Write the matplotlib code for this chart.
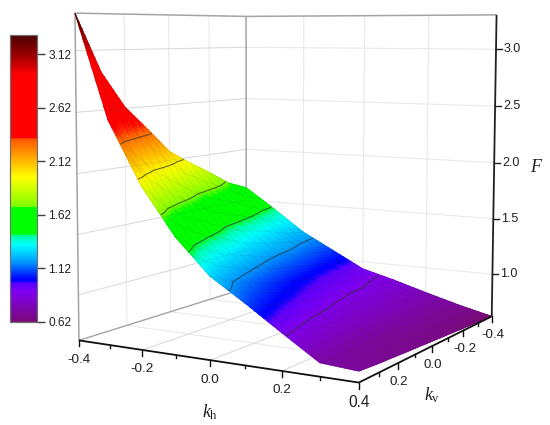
import numpy as np
import matplotlib
matplotlib.use("Agg")
import matplotlib.pyplot as plt
from matplotlib.colors import LinearSegmentedColormap, Normalize
from matplotlib.cm import ScalarMappable

plt.rcParams['font.family'] = ['Liberation Sans', 'DejaVu Sans']
plt.rcParams['mathtext.fontset'] = 'custom'
plt.rcParams['mathtext.it'] = 'Liberation Serif:italic'
plt.rcParams['mathtext.rm'] = 'Liberation Serif'

W, H = 550, 425

# ---- data ----
kh_values = [-0.4, -0.3, -0.2, -0.1, 0.0, 0.1, 0.2, 0.3, 0.4]
kv_values = [-0.4, -0.3, -0.2, -0.1, 0.0, 0.1, 0.2, 0.3, 0.4]
# rows: kh, columns: kv
F_row_m40 = [1.62, 1.70, 1.83, 1.95, 2.08, 2.30, 2.51, 2.82, 3.30]
F_row_m30 = [1.43, 1.48, 1.56, 1.63, 1.71, 1.84, 1.97, 2.16, 2.45]
F_row_m20 = [1.23, 1.26, 1.32, 1.37, 1.42, 1.52, 1.61, 1.74, 1.94]
F_row_m10 = [1.08, 1.10, 1.14, 1.17, 1.21, 1.27, 1.33, 1.42, 1.56]
F_row_p00 = [0.93, 0.95, 0.97, 1.00, 1.03, 1.07, 1.12, 1.18, 1.28]
F_row_p10 = [0.855, 0.87, 0.89, 0.90, 0.92, 0.95, 0.985, 1.03, 1.10]
F_row_p20 = [0.77, 0.78, 0.79, 0.80, 0.81, 0.83, 0.84, 0.87, 0.91]
F_row_p30 = [0.69, 0.69, 0.70, 0.70, 0.70, 0.70, 0.71, 0.72, 0.725]
F_row_p40 = [0.62, 0.63, 0.64, 0.65, 0.66, 0.67, 0.68, 0.69, 0.705]

kh_ticks = [-0.4, -0.2, 0.0, 0.2, 0.4]
kh_minor = [-0.3, -0.1, 0.1, 0.3]
kv_ticks = [0.2, 0.0, -0.2, -0.4]
kv_minor = [0.3, 0.1, -0.1, -0.3]
F_ticks = [1.0, 1.5, 2.0, 2.5, 3.0]
contour_levels = [0.89, 1.18, 1.45, 1.72, 1.99, 2.26]
cbar_ticks = [0.62, 1.12, 1.62, 2.12, 2.62, 3.12]
F_min, F_max = 0.62, 3.30

# colour stops of the legend bar
stops = [(0.62, '#7a0a78'), (0.90, '#8000f0'), (0.985, '#5a00ff'), (0.99, '#1000ff'),
         (1.02, '#0000ff'), (1.18, '#0099ff'), (1.34, '#00ffff'), (1.43, '#00ff99'),
         (1.44, '#00ff00'), (1.69, '#00ff00'), (1.70, '#80ff00'), (1.97, '#ffff00'),
         (2.33, '#ff5500'), (2.34, '#ff0000'), (2.93, '#ff0000'), (3.12, '#980000'),
         (3.30, '#4a0000')]
cmap = LinearSegmentedColormap.from_list(
    'origin', [((f - F_min) / (F_max - F_min), c) for f, c in stops], N=1024)
norm = Normalize(F_min, F_max)

kh = np.array(kh_values)
kv = np.array(kv_values)
F = np.array([F_row_m40, F_row_m30, F_row_m20, F_row_m10, F_row_p00,
              F_row_p10, F_row_p20, F_row_p30, F_row_p40])

# ---- perspective camera calibrated on the printed box ----
L, R = -0.4, 0.4
cal = [((L, R, F_min), (79, 340)), ((R, R, F_min), (358.3, 382)),
       ((R, L, F_min), (491.7, 317)), ((L, L, F_min), (246, 288)),
       ((L, R, F_max), (75, 12.7)), ((L, L, F_max), (246.7, 16.5)),
       ((R, L, F_max), (496.7, 15.3)), ((0, R, F_min), (211, 361)),
       ((R, 0, F_min), (431.7, 347)), ((R, L, 2.0), (495, 162)),
       ((R, L, 1.0), (492.3, 273)), ((L, 0, F_max), (168, 15)),
       ((0, L, F_max), (364, 16))]
A, b = [], []
for (X, Y, Z), (u, v) in cal:
    A.append([X, Y, Z, 1, 0, 0, 0, 0, -u * X, -u * Y, -u * Z]); b.append(u)
    A.append([0, 0, 0, 0, X, Y, Z, 1, -v * X, -v * Y, -v * Z]); b.append(v)
sol = np.linalg.lstsq(np.array(A, float), np.array(b, float), rcond=None)[0]
P = np.append(sol, 1.0).reshape(3, 4)


def project(x, y, z):
    x, y, z = np.broadcast_arrays(np.asarray(x, float), np.asarray(y, float), np.asarray(z, float))
    q = P @ np.stack([x.ravel(), y.ravel(), z.ravel(), np.ones(x.size)])
    return (q[0] / q[2]).reshape(x.shape), (q[1] / q[2]).reshape(x.shape)


fig = plt.figure(figsize=(W / 100, H / 100), dpi=100)
ax = fig.add_axes([0, 0, 1, 1])
ax.set_xlim(0, W)
ax.set_ylim(H, 0)
ax.set_axis_off()


def line3(xs, ys, zs, **kw):
    u, v = project(xs, ys, zs)
    ax.plot(u, v, solid_capstyle='butt', **kw)


# ---- box and grid ----
GRID = '#e9e9e9'
FRAME = '#a4a4a4'
grid_kw = dict(color=GRID, lw=0.8, zorder=1)
for t in kh_ticks[1:-1]:
    line3([t, t], [L, R], [F_min, F_min], **grid_kw)
    line3([t, t], [L, L], [F_min, F_max], **grid_kw)
for t in kv_ticks[:-1]:
    line3([L, R], [t, t], [F_min, F_min], **grid_kw)
    line3([L, L], [t, t], [F_min, F_max], **grid_kw)
for t in F_ticks:
    line3([L, L], [R, L], [t, t], **grid_kw)
    line3([L, R], [L, L], [t, t], **grid_kw)
line3([L, L], [R, L], [F_min, F_min], color=FRAME, lw=1.0, zorder=2)
line3([L, R], [L, L], [F_min, F_min], color=FRAME, lw=1.0, zorder=2)
line3([L, L], [R, L], [F_max, F_max], color=FRAME, lw=1.1, zorder=2)
line3([L, R], [L, L], [F_max, F_max], color=FRAME, lw=1.1, zorder=2)
line3([L, L], [R, R], [F_min, F_max], color=FRAME, lw=1.1, zorder=2)
line3([L, L], [L, L], [F_min, F_max], color=FRAME, lw=1.1, zorder=2)

# ---- surface: each table cell is shaded with a fine gradient ----
sub = 8
fine = np.linspace(0, len(kh) - 1, (len(kh) - 1) * sub + 1)
kh_f = np.interp(fine, np.arange(len(kh)), kh)
kv_f = np.interp(fine, np.arange(len(kv)), kv)
F_f = np.array([np.interp(fine, np.arange(len(kv)), row) for row in F])
F_f = np.array([np.interp(fine, np.arange(len(kh)), col) for col in F_f.T]).T
KH, KV = np.meshgrid(kh_f, kv_f, indexing='ij')
U, V = project(KH, KV, F_f)
ax.pcolormesh(U, V, F_f, cmap=cmap, norm=norm, shading='gouraud', zorder=3)

# fine mesh lines on the surface
step = sub // 2
for i in range(0, U.shape[0], step):
    ax.plot(U[i, :], V[i, :], color='#303030', lw=0.35, alpha=0.16, zorder=4)
for j in range(0, U.shape[1], step):
    ax.plot(U[:, j], V[:, j], color='#303030', lw=0.35, alpha=0.16, zorder=4)
ax.contour(U, V, F_f, levels=contour_levels, colors='#303030',
           linewidths=0.8, alpha=0.7, zorder=5)

# floor and wall lines that show faintly through the surface
through = dict(color='#303030', lw=0.5, alpha=0.1, zorder=4)
for t in kh_ticks[1:-1]:
    line3([t, t], [L, R], [F_min, F_min], **through)
for t in F_ticks:
    line3([L, L], [R, L], [t, t], **through)

# ---- axes ----
INK = '#101010'
line3([L, R], [R, R], [F_min, F_min], color=INK, lw=1.3, zorder=6)
line3([R, R], [R, L], [F_min, F_min], color=INK, lw=1.3, zorder=6)
line3([R, R], [L, L], [F_min, F_max], color='#202020', lw=1.3, zorder=6)
TXT = '#202020'

for ticks, size in [(kh_ticks, 6), (kh_minor, 3)]:
    for k in ticks:
        u, v = project(k, R, F_min)
        ax.plot([u, u], [v, v + size], color=INK, lw=1.0, zorder=6)
for ticks, size in [(kv_ticks, 5.5), (kv_minor, 3)]:
    for k in ticks:
        u, v = project(R, k, F_min)
        ax.plot([u, u], [v, v + size], color=INK, lw=1.0, zorder=6)
for k in kh_ticks:
    u, v = project(k, R, F_min)
    ax.text(u, v + 19.5, f'{k:.1f}', fontsize=11.2 if k == 0.4 else 9.7,
            ha='center', va='center', color=TXT, zorder=7)
for k in kv_ticks:
    u, v = project(R, k, F_min)
    ax.text(u + 1, v + 19, f'{k:.1f}', fontsize=9.6, ha='center', va='center',
            color=TXT, zorder=7)
for k in F_ticks:
    u, v = project(R, L, k)
    ax.plot([u, u + 5.5], [v, v], color='#202020', lw=1.0, zorder=6)
    ax.text(u + 8, v, f'{k:.1f}', fontsize=9, ha='left', va='center', color=TXT, zorder=7)

ax.text(210, 412, r'$k_{\mathrm{h}}$', fontsize=13, ha='center', va='center', color=TXT)
ax.text(432, 395, r'$k_{\mathrm{v}}$', fontsize=13, ha='center', va='center', color=TXT)
ax.text(537, 168, r'$F$', fontsize=13, ha='center', va='center', color=TXT)

# ---- colour bar ----
cax = fig.add_axes([10 / W, 1 - 322 / H, 27 / W, 287 / H])
cb = fig.colorbar(ScalarMappable(norm=norm, cmap=cmap), cax=cax, ticks=cbar_ticks)
cb.ax.set_yticklabels([f'{t:.2f}' for t in cbar_ticks])
cb.ax.tick_params(length=6, width=1.0, color='#404040', labelsize=8.6,
                  labelcolor=TXT, pad=2)
cb.outline.set_edgecolor('#707070')
cb.outline.set_linewidth(0.9)

fig.savefig('out.png', dpi=100)
